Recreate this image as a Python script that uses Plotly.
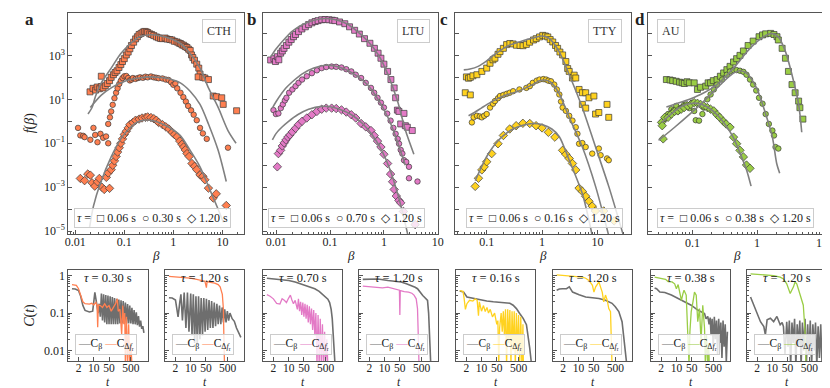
import numpy as np
import plotly.graph_objects as go

W, H = 830, 388
FONT = "Liberation Serif"
AX = "#555555"
FIT_GRAY = "#808080"
LINE_GRAY = "#6e6e6e"
EDGE = "#3a3a3a"

COLORS = {"CTH": "#ff7f50", "LTU": "#e37ac6", "TTY": "#ffd21f", "AU": "#9acd45"}

# ---------------- top row: (beta, log10 f(beta)) ----------------
# a: CTH
CTH_SQ = [(0.020, 1.34), (0.023, 1.50), (0.026, 1.42), (0.028, 1.56), (0.031, 1.48), (0.034, 1.58), (0.034, 2.05),
          (0.037, 1.52), (0.041, 1.62), (0.045, 1.72), (0.050, 1.85), (0.054, 2.0), (0.060, 2.12), (0.065, 2.22),
          (0.071, 2.3), (0.078, 2.45), (0.085, 2.58), (0.092, 2.72), (0.10, 2.85), (0.11, 3.02), (0.12, 3.15),
          (0.13, 3.3), (0.14, 3.45), (0.155, 3.6), (0.17, 3.75), (0.185, 3.85), (0.20, 3.95), (0.22, 4.0),
          (0.24, 4.06), (0.26, 4.09), (0.28, 4.07), (0.30, 4.04), (0.33, 3.98), (0.36, 3.95), (0.40, 3.9),
          (0.45, 3.84), (0.50, 3.8), (0.55, 3.77), (0.60, 3.76), (0.68, 3.79), (0.75, 3.74), (0.85, 3.72),
          (0.94, 3.7), (1.05, 3.64), (1.19, 3.61), (1.3, 3.56), (1.39, 3.54), (1.5, 3.48), (1.62, 3.46),
          (1.75, 3.4), (1.9, 3.36), (2.05, 3.28), (2.21, 3.22), (2.35, 3.02), (2.5, 2.9), (2.7, 2.78),
          (3.0, 2.6), (3.3, 2.42), (3.5, 2.15), (3.2, 2.02), (4.0, 2.0), (4.4, 1.97), (5.2, 1.9), (6.5, 1.15),
          (7.6, 1.12), (9.7, 1.07), (10.4, 0.77), (19.5, 0.48)]
CTH_CI = [(0.0114, -0.30), (0.0127, -0.64), (0.0145, -0.66), (0.0155, -0.72), (0.0203, -0.84), (0.0235, -0.30),
          (0.0255, -0.62), (0.0284, -0.95), (0.0327, -0.57), (0.037, -0.75), (0.0425, -0.69), (0.047, -1.0),
          (0.047, -0.12), (0.051, 0.18), (0.054, 0.45), (0.058, 0.75), (0.063, 1.05), (0.068, 1.3), (0.073, 1.5),
          (0.079, 1.7), (0.085, 1.85), (0.092, 1.97), (0.10, 2.05), (0.11, 2.06), (0.12, 1.97), (0.13, 1.86),
          (0.14, 1.9), (0.15, 1.97), (0.17, 1.93), (0.19, 1.97), (0.21, 2.0), (0.24, 1.98), (0.27, 2.03),
          (0.30, 2.0), (0.35, 2.04), (0.40, 2.0), (0.45, 1.98), (0.50, 1.96), (0.60, 1.95), (0.70, 1.9),
          (0.80, 1.88), (0.90, 1.78), (1.0, 1.66), (1.1, 1.72), (1.2, 1.5), (1.4, 1.3), (1.6, 1.1), (1.8, 0.9),
          (2.0, 0.7), (2.3, 0.5), (2.6, 0.3), (3.0, 0.05), (3.5, -0.3), (4.0, -0.55), (4.8, -0.8), (13, -1.2)]
CTH_DI = [(0.0127, -2.6), (0.0155, -2.7), (0.018, -2.4), (0.0203, -2.45), (0.022, -2.8), (0.025, -2.95),
          (0.0284, -2.75), (0.031, -2.6), (0.035, -3.0), (0.039, -3.1), (0.043, -2.55), (0.047, -2.35),
          (0.05, -3.05), (0.054, -2.2), (0.058, -2.0), (0.063, -1.8), (0.068, -1.6), (0.073, -1.4), (0.079, -1.2),
          (0.085, -1.0), (0.092, -0.8), (0.10, -0.6), (0.11, -0.45), (0.12, -0.3), (0.13, -0.15), (0.15, -0.05),
          (0.17, 0.05), (0.20, 0.1), (0.23, 0.15), (0.27, 0.18), (0.30, 0.2), (0.35, 0.17), (0.40, 0.12),
          (0.45, 0.05), (0.5, -0.05), (0.6, -0.15), (0.7, -0.25), (0.81, -0.35), (0.95, -0.5), (1.05, -0.6),
          (1.19, -0.7), (1.35, -0.9), (1.5, -1.05), (1.62, -1.17), (1.75, -1.3), (1.9, -1.47), (2.1, -1.6),
          (2.4, -1.92), (2.7, -2.05), (3.0, -2.2), (3.5, -2.44), (4.0, -2.5), (4.4, -2.66), (5.2, -3.04),
          (6.5, -3.49), (7.5, -3.3), (12, -3.83)]
CTH_FIT_SQ = [(0.0182, 0.33), (0.022, 0.63), (0.026, 1.15), (0.034, 1.75), (0.054, 2.42), (0.085, 3.09),
              (0.134, 3.54), (0.2, 3.84), (0.36, 3.94), (0.56, 3.88), (0.88, 3.76), (1.4, 3.54), (2.2, 3.09),
              (3.5, 2.42), (5.2, 1.52), (8.2, 0.63), (13, -0.42), (19, -1.0)]
CTH_FIT_CI = [(0.0203, 0.63), (0.034, 1.19), (0.054, 1.52), (0.085, 1.75), (0.134, 1.9), (0.2, 1.97), (0.32, 2.02),
              (0.51, 2.0), (0.81, 1.94), (1.39, 1.75), (2.2, 1.37), (3.5, 0.77), (5.2, -0.12), (8.2, -1.32),
              (12, -2.74)]
CTH_FIT_DI = [(0.0196, -4.83), (0.0235, -3.86), (0.0327, -2.81), (0.054, -1.62), (0.085, -0.8), (0.134, -0.27),
              (0.2, 0.0), (0.32, 0.06), (0.51, -0.05), (0.81, -0.27), (1.39, -0.65), (2.2, -1.32), (3.5, -2.07),
              (5.2, -2.96), (8.2, -4.0), (10.5, -4.6)]

# b: LTU
LTU_SQ = [(0.0079, 2.79), (0.0091, 2.85), (0.0097, 2.72), (0.0105, 2.94), (0.0112, 2.8), (0.0121, 3.1),
          (0.013, 3.2), (0.014, 3.32), (0.0155, 3.45), (0.0172, 3.6), (0.019, 3.72), (0.021, 3.85), (0.0229, 3.95),
          (0.026, 4.08), (0.03, 4.2), (0.0348, 4.3), (0.04, 4.4), (0.046, 4.48), (0.053, 4.54), (0.06, 4.58),
          (0.07, 4.62), (0.081, 4.63), (0.095, 4.62), (0.11, 4.6), (0.123, 4.58), (0.15, 4.52), (0.188, 4.44),
          (0.23, 4.3), (0.286, 4.14), (0.35, 3.97), (0.436, 3.76), (0.55, 3.55), (0.666, 3.32), (0.78, 3.1),
          (0.88, 2.87), (1.0, 2.6), (1.17, 2.27), (1.35, 1.9), (1.55, 1.52), (1.65, 1.07), (1.78, 0.51),
          (1.9, 0.45), (2.36, 0.36), (2.05, -0.12), (2.5, -0.2), (2.72, -0.27), (3.36, -0.42)]
LTU_CI = [(0.0089, 0.51), (0.0099, 0.33), (0.011, 0.36), (0.0122, 0.6), (0.0133, 0.77), (0.0145, 0.95),
          (0.0155, 1.07), (0.0174, 1.3), (0.02, 1.45), (0.0229, 1.6), (0.026, 1.75), (0.0303, 1.9), (0.037, 2.05),
          (0.046, 2.19), (0.057, 2.32), (0.07, 2.42), (0.085, 2.47), (0.107, 2.49), (0.13, 2.48), (0.163, 2.45),
          (0.2, 2.37), (0.248, 2.27), (0.3, 2.12), (0.377, 1.97), (0.46, 1.75), (0.575, 1.52), (0.66, 1.3),
          (0.76, 1.07), (0.88, 0.85), (1.0, 0.625), (1.15, 0.35), (1.33, 0.03), (1.5, -0.3), (1.65, -0.57),
          (1.8, -0.8), (1.91, -1.02), (2.05, -1.3), (2.2, -1.47), (2.36, -1.77), (2.6, -1.85), (2.92, -2.07),
          (2.92, -2.59), (4.2, -2.74)]
LTU_DI = [(0.0105, -2.07), (0.011, -1.47), (0.0121, -1.32), (0.013, -1.12), (0.0141, -0.98), (0.0152, -0.85),
          (0.0165, -0.72), (0.018, -0.62), (0.02, -0.48), (0.0229, -0.32), (0.026, -0.15), (0.0303, 0.0),
          (0.037, 0.15), (0.046, 0.3), (0.057, 0.45), (0.07, 0.55), (0.085, 0.6), (0.107, 0.6), (0.13, 0.58),
          (0.163, 0.52), (0.2, 0.42), (0.248, 0.3), (0.3, 0.15), (0.377, -0.1), (0.46, -0.25), (0.575, -0.42),
          (0.66, -0.65), (0.76, -0.9), (0.88, -1.17), (1.0, -1.5), (1.17, -1.92), (1.33, -2.4), (1.45, -2.75),
          (1.55, -3.1), (1.7, -3.4), (1.9, -3.6), (2.05, -3.71), (2.3, -4.1), (3.8, -4.7)]
LTU_FIT_SQ = [(0.008, 2.95), (0.01, 3.3), (0.015, 3.8), (0.02, 4.1), (0.03, 4.38), (0.05, 4.6), (0.08, 4.68),
              (0.12, 4.63), (0.2, 4.45), (0.3, 4.15), (0.5, 3.65), (0.8, 3.0), (1.2, 2.1), (1.8, 0.9), (2.5, -0.4),
              (3.6, -1.5)]
LTU_FIT_CI = [(0.0085, 0.6), (0.01, 0.9), (0.015, 1.5), (0.02, 1.8), (0.03, 2.15), (0.05, 2.42), (0.08, 2.55),
              (0.12, 2.52), (0.2, 2.35), (0.3, 2.1), (0.5, 1.65), (0.8, 0.95), (1.2, 0.15), (1.6, -0.6), (2.0, -1.3),
              (2.5, -2.0)]
LTU_FIT_DI = [(0.0085, -0.85), (0.01, -0.55), (0.013, -0.25), (0.017, 0.0), (0.025, 0.3), (0.04, 0.55),
              (0.07, 0.68), (0.1, 0.66), (0.15, 0.55), (0.25, 0.3), (0.4, -0.1), (0.6, -0.6), (0.9, -1.3),
              (1.3, -2.2), (1.8, -3.3), (2.3, -4.3), (2.8, -5.2)]

# c: TTY
TTY_SQ = [(0.041, 1.3), (0.0506, 1.2), (0.043, 2.02), (0.047, 1.96), (0.0506, 2.0), (0.0564, 2.07), (0.0665, 2.12),
          (0.0817, 2.27), (0.1, 2.42), (0.115, 2.64), (0.13, 2.8), (0.141, 2.87), (0.16, 3.05), (0.174, 3.17),
          (0.2, 3.32), (0.229, 3.49), (0.262, 3.54), (0.3, 3.52), (0.344, 3.46), (0.4, 3.45), (0.453, 3.44),
          (0.52, 3.5), (0.596, 3.6), (0.7, 3.7), (0.783, 3.76), (0.9, 3.84), (1.03, 3.91), (1.15, 3.88),
          (1.27, 3.84), (1.4, 3.72), (1.56, 3.61), (1.75, 3.45), (1.91, 3.32), (2.1, 3.15), (2.35, 3.02),
          (2.69, 2.72), (2.9, 2.4), (3.09, 2.27), (3.54, 1.97), (3.8, 2.1), (4.06, 1.97), (4.66, 1.45), (5.34, 1.3),
          (6.13, 1.3), (7.03, 1.07), (5.34, 0.77), (6.13, 0.6), (8.63, 1.15), (9.25, 0.33), (10.6, 0.4),
          (14.9, 0.77), (16, 0.18)]
TTY_CI = [(0.054, -0.05), (0.058, 0.18), (0.0665, 0.25), (0.075, 0.22), (0.0817, 0.18), (0.09, 0.25), (0.1, 0.33),
          (0.115, 0.625), (0.13, 0.8), (0.141, 0.92), (0.16, 1.05), (0.174, 1.15), (0.2, 1.2), (0.229, 1.25),
          (0.26, 1.3), (0.3, 1.37), (0.39, 1.45), (0.52, 1.52), (0.6, 1.6), (0.68, 1.75), (0.8, 1.85), (0.9, 1.9),
          (1.05, 1.92), (1.18, 1.9), (1.3, 1.85), (1.45, 1.82), (1.66, 1.67), (1.85, 1.45), (2.05, 1.22),
          (2.2, 0.9), (2.35, 0.625), (2.69, 0.475), (3.09, 0.25), (3.54, 0.03), (4.06, -0.27), (4.35, -0.57),
          (4.66, -1.02), (5.34, -0.99), (6.13, -1.17), (8.05, -1.47), (10.6, -1.24), (11.4, -1.54), (14.9, -1.69),
          (16, -1.77)]
TTY_DI = [(0.062, -2.96), (0.071, -2.59), (0.0817, -2.21), (0.09, -2.07), (0.1, -1.84), (0.123, -1.47),
          (0.16, -1.02), (0.2, -0.645), (0.26, -0.35), (0.34, -0.2), (0.45, -0.09), (0.6, -0.1), (0.78, -0.2),
          (1.0, -0.3), (1.3, -0.5), (1.7, -0.72), (2.35, -1.32), (2.69, -1.5), (3.09, -1.69), (3.54, -1.92),
          (4.06, -2.21), (4.66, -3.04), (5.34, -3.19), (6.13, -3.41), (7.03, -3.64), (8.05, -3.86), (9.2, -4.08),
          (13, -4.08), (20, -4.53)]
TTY_FIT_SQ = [(0.0385, 2.34), (0.05, 2.38), (0.07, 2.5), (0.1, 2.75), (0.15, 3.1), (0.25, 3.45), (0.4, 3.62),
              (0.7, 3.8), (1.0, 3.88), (1.3, 3.8), (2.0, 3.2), (3.09, 2.12), (5.34, 0.62), (9.25, -1.17),
              (16, -2.96), (29.5, -5.2)]
TTY_FIT_CI = [(0.047, 0.25), (0.06, 0.4), (0.08, 0.6), (0.115, 0.85), (0.2, 1.15), (0.35, 1.35), (0.6, 1.6),
              (0.9, 1.85), (1.1, 1.88), (1.4, 1.8), (2.0, 1.3), (3.09, 0.18), (5.34, -1.17), (9.25, -2.96),
              (16, -5.2)]
TTY_FIT_DI = [(0.062, -2.7), (0.08, -2.1), (0.1, -1.6), (0.14, -1.05), (0.2, -0.65), (0.3, -0.35), (0.45, -0.18),
              (0.68, -0.1), (1.0, -0.15), (1.5, -0.35), (2.05, -0.7), (3.09, -1.77), (5.34, -3.3), (8.05, -5.2)]

# d: AU
AU_SQ = [(0.04, 1.9), (0.0456, 1.88), (0.05, 1.85), (0.0566, 1.82), (0.0638, 1.78), (0.07, 1.75), (0.0755, 1.72),
         (0.083, 1.8), (0.09, 1.75), (0.107, 1.75), (0.12, 1.45), (0.134, 1.55), (0.161, 1.6), (0.175, 1.75),
         (0.191, 1.75), (0.21, 1.85), (0.24, 1.9), (0.27, 2.05), (0.303, 2.2), (0.34, 2.35), (0.38, 2.5),
         (0.43, 2.7), (0.48, 2.85), (0.54, 3.0), (0.61, 3.2), (0.72, 3.45), (0.86, 3.65), (1.06, 3.85),
         (1.2, 3.93), (1.34, 3.98), (1.6, 4.0), (1.8, 3.95), (2.0, 3.85), (2.1, 3.7), (2.4, 3.32), (2.7, 2.87),
         (3.0, 2.27), (3.4, 1.67), (3.8, 1.3), (4.3, 0.92), (4.5, 0.62), (5.0, 0.1)]
AU_CI = [(0.0337, -0.05), (0.0378, 0.1), (0.0425, 0.33), (0.0477, 0.55), (0.052, 0.5), (0.0567, 0.7), (0.06, 0.45),
         (0.0675, 0.625), (0.075, 0.75), (0.08, 0.77), (0.09, 0.6), (0.1, 0.85), (0.107, 0.47), (0.113, 0.05),
         (0.127, 0.03), (0.143, 0.33), (0.15, 0.625), (0.17, 1.0), (0.191, 1.22), (0.214, 1.45), (0.24, 1.67),
         (0.287, 1.9), (0.34, 2.12), (0.38, 2.27), (0.43, 2.34), (0.48, 2.33), (0.54, 2.30), (0.61, 2.25),
         (0.68, 2.12), (0.77, 1.9), (0.86, 1.67), (0.96, 1.4), (1.06, 1.07), (1.2, 0.8), (1.34, 0.33),
         (1.5, -0.12), (1.7, -0.42), (1.8, -0.645), (1.9, -1.17), (2.1, -1.24)]
AU_DI = [(0.0337, -0.05), (0.0345, -0.2), (0.0357, -0.8), (0.0378, 0.18), (0.0425, 0.18), (0.0477, 0.33),
         (0.0535, 0.45), (0.06, 0.475), (0.0675, 0.55), (0.075, 0.625), (0.085, 0.7), (0.095, 0.77), (0.107, 0.85),
         (0.12, 0.82), (0.134, 0.77), (0.15, 0.7), (0.17, 0.625), (0.191, 0.55), (0.214, 0.475), (0.24, 0.3),
         (0.263, 0.18), (0.3, 0.0), (0.33, -0.12), (0.38, -0.27), (0.43, -0.72), (0.48, -1.02), (0.54, -1.32),
         (0.61, -1.62), (0.68, -1.99), (0.77, -2.14)]
AU_FIT_SQ = [(0.04, 0.655), (0.0755, 0.92), (0.134, 1.22), (0.24, 1.67), (0.43, 2.42), (0.77, 3.32), (1.34, 3.91),
             (1.7, 3.99), (2.1, 3.84), (2.7, 3.17), (3.4, 2.12), (4.3, 0.77), (4.8, -0.5)]
AU_FIT_CI = [(0.0303, -0.87), (0.0536, -0.27), (0.134, 0.77), (0.27, 1.67), (0.43, 2.19), (0.54, 2.30),
             (0.68, 2.19), (0.97, 1.52), (1.34, 0.33), (1.7, -0.72), (1.98, -1.92), (2.2, -2.36)]
AU_FIT_DI = [(0.034, -0.05), (0.05, 0.4), (0.07, 0.7), (0.1, 0.82), (0.13, 0.8), (0.17, 0.65), (0.24, 0.3),
             (0.33, -0.2), (0.43, -0.75), (0.55, -1.5), (0.68, -2.2), (0.8, -2.95)]

# ---------------- bottom row: (log10 t, log10 C) ----------------
CTH_030_CB = [(0, -0.35), (0.15, -0.36), (0.3, -0.4), (0.4, -0.55), (0.5, -0.8), (0.6, -0.93), (0.8, -0.97),
              (0.95, -0.95), (1.05, -0.45), (1.12, -0.7), (1.2, -1.0), (1.25, -0.75), (1.3, -1.1), (1.35, -0.48),
              (1.4, -1.2), (1.45, -0.5), (1.5, -1.25), (1.55, -0.52), (1.6, -1.3), (1.65, -0.53), (1.7, -1.3),
              (1.75, -0.55), (1.8, -1.3), (1.85, -0.57), (1.9, -1.3), (1.95, -0.6), (2.0, -1.3), (2.05, -0.62),
              (2.1, -1.3), (2.15, -0.64), (2.2, -1.28), (2.25, -0.66), (2.3, -1.28), (2.35, -0.68), (2.4, -1.28),
              (2.45, -0.72), (2.5, -1.28), (2.55, -0.76), (2.6, -1.28), (2.65, -0.8), (2.7, -1.28), (2.75, -0.86),
              (2.8, -1.3), (2.85, -0.92), (2.9, -1.3), (2.95, -0.98), (3.0, -1.32), (3.05, -1.08), (3.1, -1.36),
              (3.15, -1.2), (3.2, -1.42), (3.25, -1.35), (3.3, -1.53)]
CTH_030_CF = [(0, -0.24), (0.2, -0.26), (0.3, -0.35), (0.4, -0.55), (0.5, -0.7), (0.6, -0.75), (0.8, -0.76),
              (0.9, -0.74), (1.0, -0.78), (1.1, -0.72), (1.15, -0.8), (1.18, -1.38), (1.21, -0.78), (1.3, -0.8),
              (1.4, -0.85), (1.5, -0.75), (1.6, -0.85), (1.7, -0.8), (1.8, -0.95), (1.9, -0.85), (2.0, -0.75),
              (2.08, -0.62), (2.12, -0.95), (2.2, -0.9), (2.28, -1.58), (2.33, -0.8), (2.38, -1.3), (2.42, -1.0),
              (2.45, -2.4), (2.5, -1.1), (2.55, -2.4), (2.6, -1.3), (2.65, -2.4), (2.7, -1.8), (2.75, -2.4),
              (2.8, -2.4)]
CTH_120_CB = [(0, -0.59), (0.15, -0.6), (0.3, -0.65), (0.35, -0.8), (0.42, -1.1), (0.5, -0.7), (0.55, -0.5),
              (0.62, -1.2), (0.7, -0.45), (0.78, -1.4), (0.85, -0.45), (0.92, -1.5), (1.0, -0.48), (1.06, -1.6),
              (1.12, -0.5), (1.18, -1.8), (1.24, -0.55), (1.3, -1.85), (1.36, -0.55), (1.42, -1.7), (1.48, -0.6),
              (1.54, -1.6), (1.6, -0.6), (1.66, -1.5), (1.72, -0.62), (1.78, -1.45), (1.84, -0.65), (1.9, -1.4),
              (1.96, -0.68), (2.02, -1.4), (2.08, -0.72), (2.14, -1.35), (2.2, -0.75), (2.26, -1.3), (2.32, -0.8),
              (2.38, -1.3), (2.44, -0.85), (2.5, -1.25), (2.56, -0.9), (2.62, -1.25), (2.68, -0.95), (2.74, -1.2),
              (2.8, -1.0), (2.9, -1.15), (3.0, -1.22), (3.1, -1.4), (3.2, -1.55), (3.3, -1.65)]
CTH_120_CF = [(0, -0.02), (0.3, -0.03), (0.6, -0.04), (0.97, -0.07), (1.27, -0.1), (1.5, -0.13), (1.65, -0.15),
              (1.72, -0.32), (1.75, -0.16), (1.9, -0.18), (2.1, -0.2), (2.26, -0.24), (2.35, -0.3), (2.45, -0.5),
              (2.5, -0.9), (2.52, -1.6), (2.55, -2.4)]
LTU_070_CB = [(0, -0.07), (0.3, -0.09), (0.7, -0.1), (1.0, -0.13), (1.3, -0.17), (1.7, -0.25), (2.0, -0.3),
              (2.2, -0.35), (2.4, -0.42), (2.55, -0.5), (2.62, -0.55), (2.7, -0.6), (2.8, -0.63), (2.88, -0.72),
              (2.95, -0.9), (3.0, -1.15), (3.05, -1.5), (3.1, -2.0), (3.13, -2.4)]
LTU_070_CF = [(0, -0.51), (0.15, -0.55), (0.3, -0.62), (0.45, -0.74), (0.6, -0.76), (0.7, -0.62), (0.8, -0.66),
              (0.9, -0.72), (1.0, -0.6), (1.08, -0.52), (1.15, -0.65), (1.22, -0.75), (1.3, -0.66), (1.4, -0.9),
              (1.45, -0.62), (1.5, -0.95), (1.55, -0.7), (1.6, -1.05), (1.65, -0.72), (1.7, -1.1), (1.75, -0.75),
              (1.8, -1.15), (1.85, -0.78), (1.9, -1.25), (1.95, -0.82), (2.0, -1.3), (2.05, -0.88), (2.1, -1.45),
              (2.15, -0.92), (2.2, -1.6), (2.25, -1.0), (2.3, -2.4), (2.35, -1.05), (2.4, -2.4), (2.45, -1.15),
              (2.5, -2.4), (2.55, -1.3), (2.6, -2.4), (2.65, -1.5), (2.7, -2.4), (2.75, -1.7), (2.8, -2.4)]
LTU_120_CB = [(0, -0.1), (0.3, -0.1), (0.7, -0.09), (1.15, -0.13), (1.5, -0.15), (1.76, -0.17), (2.0, -0.22),
              (2.21, -0.26), (2.4, -0.31), (2.51, -0.35), (2.6, -0.42), (2.66, -0.48), (2.75, -0.53), (2.82, -0.57),
              (2.9, -0.62), (2.97, -0.66), (3.02, -1.0), (3.06, -1.6), (3.12, -2.4)]
LTU_120_CF = [(0, -0.28), (0.3, -0.3), (0.6, -0.32), (0.9, -0.33), (1.15, -0.31), (1.4, -0.34), (1.6, -0.38),
              (1.68, -0.39), (1.7, -1.05), (1.72, -0.4), (1.9, -0.43), (2.1, -0.44), (2.25, -0.47), (2.35, -0.52),
              (2.45, -0.62), (2.51, -0.88), (2.54, -1.5), (2.58, -2.4)]
TTY_016_CB = [(0, -0.41), (0.18, -0.44), (0.33, -0.57), (0.64, -0.61), (0.94, -0.66), (1.24, -0.68), (1.54, -0.7),
              (2.0, -0.72), (2.3, -0.74), (2.45, -0.79), (2.6, -0.88), (2.75, -1.01), (2.91, -1.14), (3.06, -1.31),
              (3.13, -1.58), (3.21, -1.93), (3.28, -2.3)]
TTY_016_CF = [(0, -0.4), (0.15, -0.42), (0.2, -0.6), (0.26, -0.9), (0.33, -0.75), (0.45, -0.66), (0.6, -0.68),
              (0.71, -0.62), (0.8, -0.66), (0.86, -1.07), (0.9, -0.7), (1.0, -0.95), (1.09, -0.8), (1.17, -0.96),
              (1.25, -0.85), (1.32, -1.0), (1.4, -0.9), (1.5, -1.1), (1.6, -1.0), (1.7, -1.3), (1.75, -1.2),
              (1.79, -2.4), (1.83, -1.4), (1.9, -1.0), (1.95, -1.5), (2.0, -0.95), (2.05, -1.6), (2.1, -0.9),
              (2.15, -2.4), (2.2, -0.9), (2.25, -1.8), (2.3, -0.92), (2.35, -2.4), (2.4, -0.95), (2.45, -2.0),
              (2.5, -0.95), (2.55, -2.4), (2.6, -1.0), (2.65, -2.1), (2.7, -1.05), (2.75, -2.4), (2.8, -1.1),
              (2.85, -2.4), (2.9, -1.3), (2.92, -2.4)]
TTY_120_CB = [(0, -0.39), (0.12, -0.36), (0.27, -0.35), (0.45, -0.35), (0.58, -0.3), (0.73, -0.44), (1.03, -0.51),
              (1.33, -0.57), (1.64, -0.59), (1.94, -0.61), (2.24, -0.66), (2.54, -0.74), (2.69, -0.83), (2.85, -0.96),
              (3.0, -1.23), (3.07, -1.58), (3.15, -2.0), (3.22, -2.4)]
TTY_120_CF = [(0, 0.02), (0.425, 0.0), (0.88, -0.015), (1.18, -0.04), (1.33, -0.07), (1.48, -0.13), (1.64, -0.26),
              (1.71, -0.44), (1.79, -0.3), (1.86, -0.22), (1.94, -0.17), (2.01, -0.3), (2.09, -0.44), (2.16, -0.7),
              (2.24, -0.52), (2.32, -0.66), (2.39, -0.88), (2.47, -0.96), (2.51, -1.66), (2.54, -2.4)]
AU_038_CB = [(0, -0.33), (0.09, -0.35), (0.24, -0.44), (0.47, -0.45), (0.77, -0.52), (1.08, -0.61), (1.38, -0.7),
             (1.68, -0.79), (1.98, -0.92), (2.15, -0.98), (2.29, -1.01), (2.36, -1.15), (2.44, -1.09), (2.5, -1.3),
             (2.55, -1.12), (2.59, -1.6), (2.64, -1.15), (2.69, -1.9), (2.74, -1.1), (2.79, -1.7), (2.84, -1.2),
             (2.89, -2.1), (2.94, -1.15), (2.99, -1.8), (3.04, -1.25), (3.09, -2.2), (3.14, -1.2), (3.19, -1.9),
             (3.24, -1.3), (3.29, -2.3), (3.34, -1.5)]
AU_038_CF = [(0, -0.04), (0.3, -0.07), (0.5, -0.1), (0.62, -0.16), (0.8, -0.17), (0.92, -0.22), (1.0, -0.35),
             (1.08, -0.24), (1.15, -0.44), (1.23, -0.66), (1.3, -0.48), (1.35, -0.39), (1.45, -0.52), (1.53, -1.66),
             (1.58, -2.4), (1.62, -1.5), (1.68, -0.96), (1.76, -0.7), (1.83, -0.44), (1.91, -0.52), (1.98, -1.23),
             (2.06, -0.88), (2.13, -1.75), (2.21, -0.79), (2.29, -1.4), (2.33, -2.4), (2.38, -1.58), (2.44, -2.4),
             (2.48, -1.8), (2.51, -2.4)]
AU_120_CB = [(0, -0.57), (0.15, -0.79), (0.3, -1.01), (0.455, -1.23), (0.61, -1.36), (0.68, -1.58), (0.76, -1.18),
             (0.91, -1.14), (1.06, -1.23), (1.21, -1.09), (1.36, -1.31), (1.45, -1.25), (1.51, -1.36), (1.58, -2.1),
             (1.66, -1.23), (1.72, -1.9), (1.78, -1.2), (1.84, -2.4), (1.9, -1.25), (1.96, -1.8), (2.02, -1.15),
             (2.08, -2.4), (2.14, -1.3), (2.2, -1.9), (2.26, -1.2), (2.32, -2.4), (2.38, -1.25), (2.44, -2.0),
             (2.5, -1.15), (2.56, -2.4), (2.62, -1.3), (2.68, -2.1), (2.74, -1.2), (2.8, -2.4), (2.86, -1.3),
             (2.92, -2.0), (2.98, -1.25), (3.04, -2.4), (3.1, -1.35), (3.16, -2.2), (3.22, -1.3), (3.28, -2.4),
             (3.33, -1.5)]
AU_120_CF = [(0, 0.046), (0.3, 0.03), (0.76, 0.02), (1.06, 0.0), (1.36, -0.04), (1.51, -0.09), (1.66, -0.22),
             (1.82, -0.48), (1.89, -0.39), (1.97, -0.3), (2.04, -0.17), (2.12, -0.22), (2.19, -0.35), (2.27, -0.52),
             (2.35, -0.7), (2.42, -0.79), (2.5, -1.49), (2.54, -2.4)]

TOP_PANELS = [
    dict(name="CTH", letter="a", taus=("0.06", "0.30", "1.20"), pts=(CTH_SQ, CTH_CI, CTH_DI),
         fits=(CTH_FIT_SQ, CTH_FIT_CI, CTH_FIT_DI), px=(57, 235), xr=[-2.14, 1.45],
         xt=[0.01, 0.1, 1, 10], lab=(209.5, 22), leg=142.5, let=18),
    dict(name="LTU", letter="b", taus=("0.06", "0.70", "1.20"), pts=(LTU_SQ, LTU_CI, LTU_DI),
         fits=(LTU_FIT_SQ, LTU_FIT_CI, LTU_FIT_DI), px=(254, 431), xr=[-2.24, 1.01],
         xt=[0.01, 0.1, 1, 10], lab=(405.5, 22), leg=338, let=242),
    dict(name="TTY", letter="c", taus=("0.06", "0.16", "1.20"), pts=(TTY_SQ, TTY_CI, TTY_DI),
         fits=(TTY_FIT_SQ, TTY_FIT_CI, TTY_FIT_DI), px=(448, 626), xr=[-1.57, 1.61],
         xt=[0.1, 1, 10], lab=(600, 22), leg=538, let=437),
    dict(name="AU", letter="d", taus=("0.06", "0.38", "1.20"), pts=(AU_SQ, AU_CI, AU_DI),
         fits=(AU_FIT_SQ, AU_FIT_CI, AU_FIT_DI), px=(643, 822), xr=[-1.68, 1.04],
         xt=[0.1, 1, 10], lab=(666, 22), leg=731, let=635),
]

BOTTOM_PANELS = [
    ("CTH", "0.30", CTH_030_CB, CTH_030_CF, 57), ("CTH", "1.20", CTH_120_CB, CTH_120_CF, 155),
    ("LTU", "0.70", LTU_070_CB, LTU_070_CF, 254), ("LTU", "1.20", LTU_120_CB, LTU_120_CF, 351),
    ("TTY", "0.16", TTY_016_CB, TTY_016_CF, 449), ("TTY", "1.20", TTY_120_CB, TTY_120_CF, 547),
    ("AU", "0.38", AU_038_CB, AU_038_CF, 646), ("AU", "1.20", AU_120_CB, AU_120_CF, 743),
]

TOP_Y = (4, 228)
BOT_Y = (264, 357)
BOT_W = 80


def sfx(n):
    return "" if n == 1 else str(n)


def xdom(a, b):
    return [a / W, b / W]


def ydom(top, bot):
    return [1 - bot / H, 1 - top / H]


def fmt_tick(v):
    return "0.01" if v == 0.01 else ("0.1" if v == 0.1 else str(int(v)))


def paper_x(v, px, xr):
    # position of value v on a log axis spanning pixel columns px with log range xr
    frac = (np.log10(v) - xr[0]) / (xr[1] - xr[0])
    return (px[0] + frac * (px[1] - px[0])) / W


fig = go.Figure()
layout = {}
ann = []

base_axis = dict(showline=True, mirror=True, linecolor=AX, linewidth=1, showgrid=False, zeroline=False,
                 ticks="inside", tickcolor=AX, ticklen=4, ticklabeloverflow="allow",
                 tickfont=dict(family=FONT, size=12, color="#222"))

# ---- top panels ----
symbols = ("square", "circle", "diamond")
sizes = (6, 5.5, 6.5)
for i, p in enumerate(TOP_PANELS):
    n = i + 1
    for pts, sym, sz in zip(p["pts"], symbols, sizes):
        b, lf = np.array(pts).T
        fig.add_trace(go.Scatter(
            x=b, y=10 ** lf, mode="markers", xaxis=f"x{sfx(n)}", yaxis=f"y{sfx(n)}", showlegend=False,
            marker=dict(symbol=sym, size=sz, color=COLORS[p["name"]], line=dict(color=EDGE, width=0.7))))
    for fit in p["fits"]:
        b, lf = np.array(fit).T
        fig.add_trace(go.Scatter(
            x=b, y=10 ** lf, mode="lines", xaxis=f"x{sfx(n)}", yaxis=f"y{sfx(n)}", showlegend=False,
            line=dict(color=FIT_GRAY, width=1.6, shape="spline", smoothing=0.8)))

    last = i == len(TOP_PANELS) - 1
    layout[f"xaxis{sfx(n)}"] = dict(
        base_axis, type="log", range=p["xr"], domain=xdom(*p["px"]), anchor=f"y{sfx(n)}",
        tickmode="array", tickvals=p["xt"], ticktext=[fmt_tick(v) for v in p["xt"]], ticklabelstandoff=-3,
        showticklabels=not last,
        minor=dict(ticks="inside", ticklen=2, tickcolor=AX, dtick="D1", showgrid=False))
    if last:
        # rightmost panel: tick labels written as text under the axis ticks
        for v in p["xt"]:
            ann.append(dict(x=paper_x(v, p["px"], p["xr"]), y=1 - 237 / H, text=fmt_tick(v),
                            font=dict(size=12)))
    yexp = list(range(-5, 5))
    layout[f"yaxis{sfx(n)}"] = dict(
        base_axis, type="log", range=[-5.13, 4.93], domain=ydom(*TOP_Y), anchor=f"x{sfx(n)}",
        tickmode="array", tickvals=[10.0 ** e for e in yexp],
        ticktext=[(f"10<sup>{str(e).replace('-', '−')}</sup>" if e % 2 else "") for e in yexp],
        showticklabels=(i == 0))

    cx = (p["px"][0] + p["px"][1]) / 2
    ann.append(dict(x=cx / W, y=1 - 250 / H, text="<i>β</i>", font=dict(size=13)))
    ann.append(dict(x=p["let"] / W, y=1 - 11 / H, text=f"<b>{p['letter']}</b>", font=dict(size=17)))
    ann.append(dict(x=p["lab"][0] / W, y=1 - p["lab"][1] / H, text=p["name"], font=dict(size=12, color="#333"),
                    bordercolor="#cccccc", borderwidth=1, borderpad=4, bgcolor="rgba(255,255,255,0.85)"))
    t1, t2, t3 = p["taus"]
    ann.append(dict(x=p["leg"] / W, y=1 - 212 / H,
                    text=f"<i>τ</i> =  □ {t1} s  ○ {t2} s  ◇ {t3} s", font=dict(size=12, color="#222"),
                    bordercolor="#cccccc", borderwidth=1, borderpad=2, bgcolor="rgba(255,255,255,0.8)"))

ann.append(dict(x=18 / W, y=1 - 115 / H, text="<i>f</i>(<i>β</i>)", textangle=-90, font=dict(size=14)))
ann.append(dict(x=18 / W, y=1 - 310 / H, text="<i>C</i>(<i>t</i>)", textangle=-90, font=dict(size=14)))

# ---- bottom panels ----
for j, (name, tau, cb, cf, left) in enumerate(BOTTOM_PANELS):
    n = 5 + j
    for data, col, wd in ((cb, LINE_GRAY, 1.6), (cf, COLORS[name], 1.3)):
        lt, lc = np.array(data).T
        fig.add_trace(go.Scatter(
            x=10 ** lt, y=10 ** lc, mode="lines", xaxis=f"x{n}", yaxis=f"y{n}", showlegend=False,
            line=dict(color=col, width=wd)))
    layout[f"xaxis{n}"] = dict(
        base_axis, type="log", range=[-0.165, 3.465], domain=xdom(left, left + BOT_W), anchor=f"y{n}",
        tickmode="array", tickvals=[2, 10, 50, 500], ticktext=["2", "10", "50", "500"], ticklabelstandoff=-4,
        tickfont=dict(family=FONT, size=11.5, color="#222"))
    layout[f"yaxis{n}"] = dict(
        base_axis, type="log", range=[-2.29, 0.16], domain=ydom(*BOT_Y), anchor=f"x{n}",
        tickmode="array", tickvals=[0.01, 0.1, 1], ticktext=["0.01", "0.1", "1"], showticklabels=(j == 0),
        minor=dict(ticks="inside", ticklen=2, tickcolor=AX, dtick="D1", showgrid=False))
    cx = left + BOT_W / 2
    ann.append(dict(x=cx / W, y=1 - 273 / H, text=f"<i>τ</i> = {tau} s", font=dict(size=12.5)))
    ann.append(dict(x=cx / W, y=1 - 378 / H, text="<i>t</i>", font=dict(size=11.5), borderpad=0))
    ann.append(dict(x=(left + 38.5) / W, y=1 - 340 / H,
                    text=(f"<span style='color:{LINE_GRAY}'>—</span>C<sub>β</sub> "
                          f"<span style='color:{COLORS[name]}'>—</span>C<sub>Δ<i>f</i><sub>r</sub></sub>"),
                    font=dict(size=11.5), bordercolor="#cccccc", borderwidth=1, borderpad=2,
                    bgcolor="rgba(255,255,255,0.8)"))

for a in ann:
    a.setdefault("xref", "paper")
    a.setdefault("yref", "paper")
    a.setdefault("showarrow", False)
    a.setdefault("xanchor", "center")
    a.setdefault("yanchor", "middle")
    a["font"] = dict(dict(family=FONT, color="#222"), **a["font"])

fig.update_layout(
    width=W, height=H, margin=dict(l=0, r=0, t=0, b=0),
    plot_bgcolor="white", paper_bgcolor="white",
    font=dict(family=FONT, color="#222"),
    annotations=ann, **layout)

fig.write_html("out.html")
